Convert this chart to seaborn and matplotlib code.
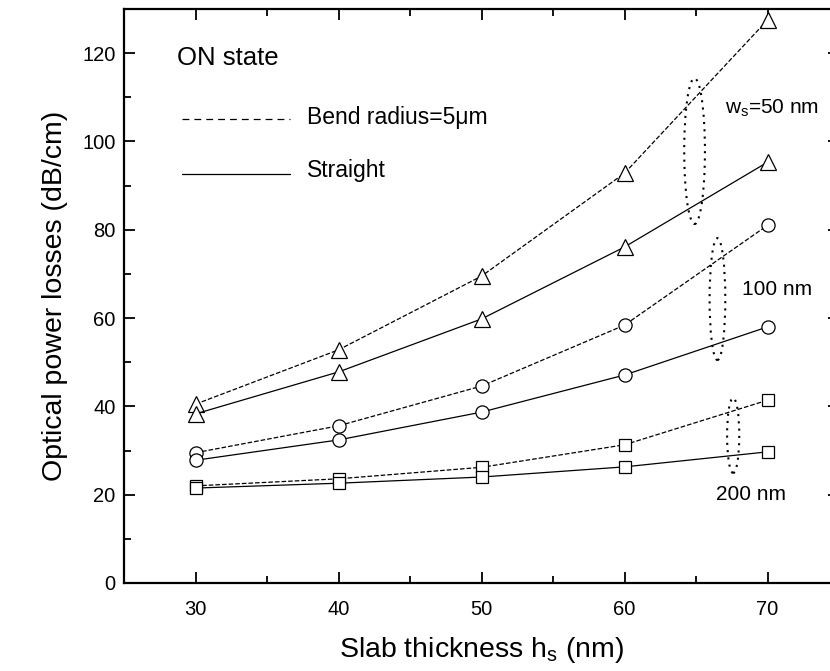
import matplotlib
matplotlib.use("Agg")
import matplotlib.pyplot as plt
from matplotlib.patches import Ellipse
from matplotlib.ticker import MultipleLocator
import seaborn as sns
import pandas as pd

sns.set_theme(style="ticks")
plt.rcParams['font.family'] = ['Liberation Sans', 'DejaVu Sans']
plt.rcParams['mathtext.fontset'] = 'custom'
plt.rcParams['mathtext.rm'] = 'Liberation Sans'
plt.rcParams['mathtext.it'] = 'Liberation Sans'
plt.rcParams['text.color'] = 'black'
plt.rcParams['axes.labelcolor'] = 'black'

# ---- data ----
slab_thickness = [30, 40, 50, 60, 70]
bend_50 = [40.5, 52.8, 69.5, 92.8, 127.5]
straight_50 = [38.3, 47.8, 59.8, 76.1, 95.3]
bend_100 = [29.5, 35.6, 44.6, 58.4, 81.0]
straight_100 = [27.8, 32.4, 38.7, 47.1, 58.0]
bend_200 = [22.0, 23.6, 26.2, 31.3, 41.4]
straight_200 = [21.5, 22.6, 24.0, 26.3, 29.7]

series = [
    (bend_50, "--", "^", 11),
    (straight_50, "-", "^", 11),
    (bend_100, "--", "o", 9.5),
    (straight_100, "-", "o", 9.5),
    (bend_200, "--", "s", 8),
    (straight_200, "-", "s", 8),
]

DASH = (5.5, 4)

fig = plt.figure(figsize=(8.3, 6.71), dpi=100)
ax = fig.add_axes([124/830, 88/671, (839-124)/830, (583-9)/671])

for vals, ls, mk, ms in series:
    df = pd.DataFrame({"h": slab_thickness, "loss": vals})
    sns.lineplot(data=df, x="h", y="loss", ax=ax, color="black", linestyle=ls,
                 linewidth=0.9, marker=mk, markersize=ms, markerfacecolor="white",
                 markeredgecolor="black", markeredgewidth=0.9,
                 dashes=False if ls == "-" else DASH)

ax.set_xlim(25, 75)
ax.set_ylim(0, 130)
ax.xaxis.set_major_locator(MultipleLocator(10))
ax.xaxis.set_minor_locator(MultipleLocator(5))
ax.yaxis.set_major_locator(MultipleLocator(20))
ax.yaxis.set_minor_locator(MultipleLocator(10))
ax.tick_params(which="both", direction="in", width=1.3, colors="black",
               labelsize=14.5, top=True, right=False)
ax.tick_params(which="major", length=8)
ax.tick_params(which="minor", length=5)
ax.tick_params(axis="x", which="major", pad=12)
ax.tick_params(axis="y", which="major", pad=6, right=True)
for s in ax.spines.values():
    s.set_linewidth(1.6)
    s.set_color("black")

ax.set_xlabel("Slab thickness h$_{\\mathregular{s}}$ (nm)", fontsize=20.5, labelpad=12)
ax.set_ylabel("Optical power losses (dB/cm)", fontsize=20.5, labelpad=10)

# annotations
ax.text(28.7, 118.9, "ON state", fontsize=18.5, ha="left", va="center")
ax.plot([29.05, 36.6], [105.2, 105.2], color="black", linestyle="--",
        linewidth=0.9, dashes=DASH)
ax.text(37.8, 105.5, "Bend radius=5\u03bcm", fontsize=16.5, ha="left", va="center")
ax.plot([29.05, 36.6], [92.6, 92.6], color="black", linestyle="-", linewidth=0.9)
ax.text(37.8, 93.5, "Straight", fontsize=16.5, ha="left", va="center")
ax.text(67.0, 107.5, "w$_{\\mathregular{s}}$=50 nm", fontsize=15, ha="left", va="center")
ax.text(68.2, 66.4, "100 nm", fontsize=15, ha="left", va="center")
ax.text(66.4, 20, "200 nm", fontsize=15, ha="left", va="center")

for xc, yc, w, h in [(64.9, 97.8, 1.45, 33.0), (66.5, 64.3, 1.1, 27.6), (67.6, 33.4, 0.85, 17.0)]:
    ax.add_patch(Ellipse((xc, yc), w, h, fill=False, edgecolor="black",
                         linestyle=(0, (1, 2.5)), linewidth=1.5))

fig.savefig("out.png", dpi=100)
